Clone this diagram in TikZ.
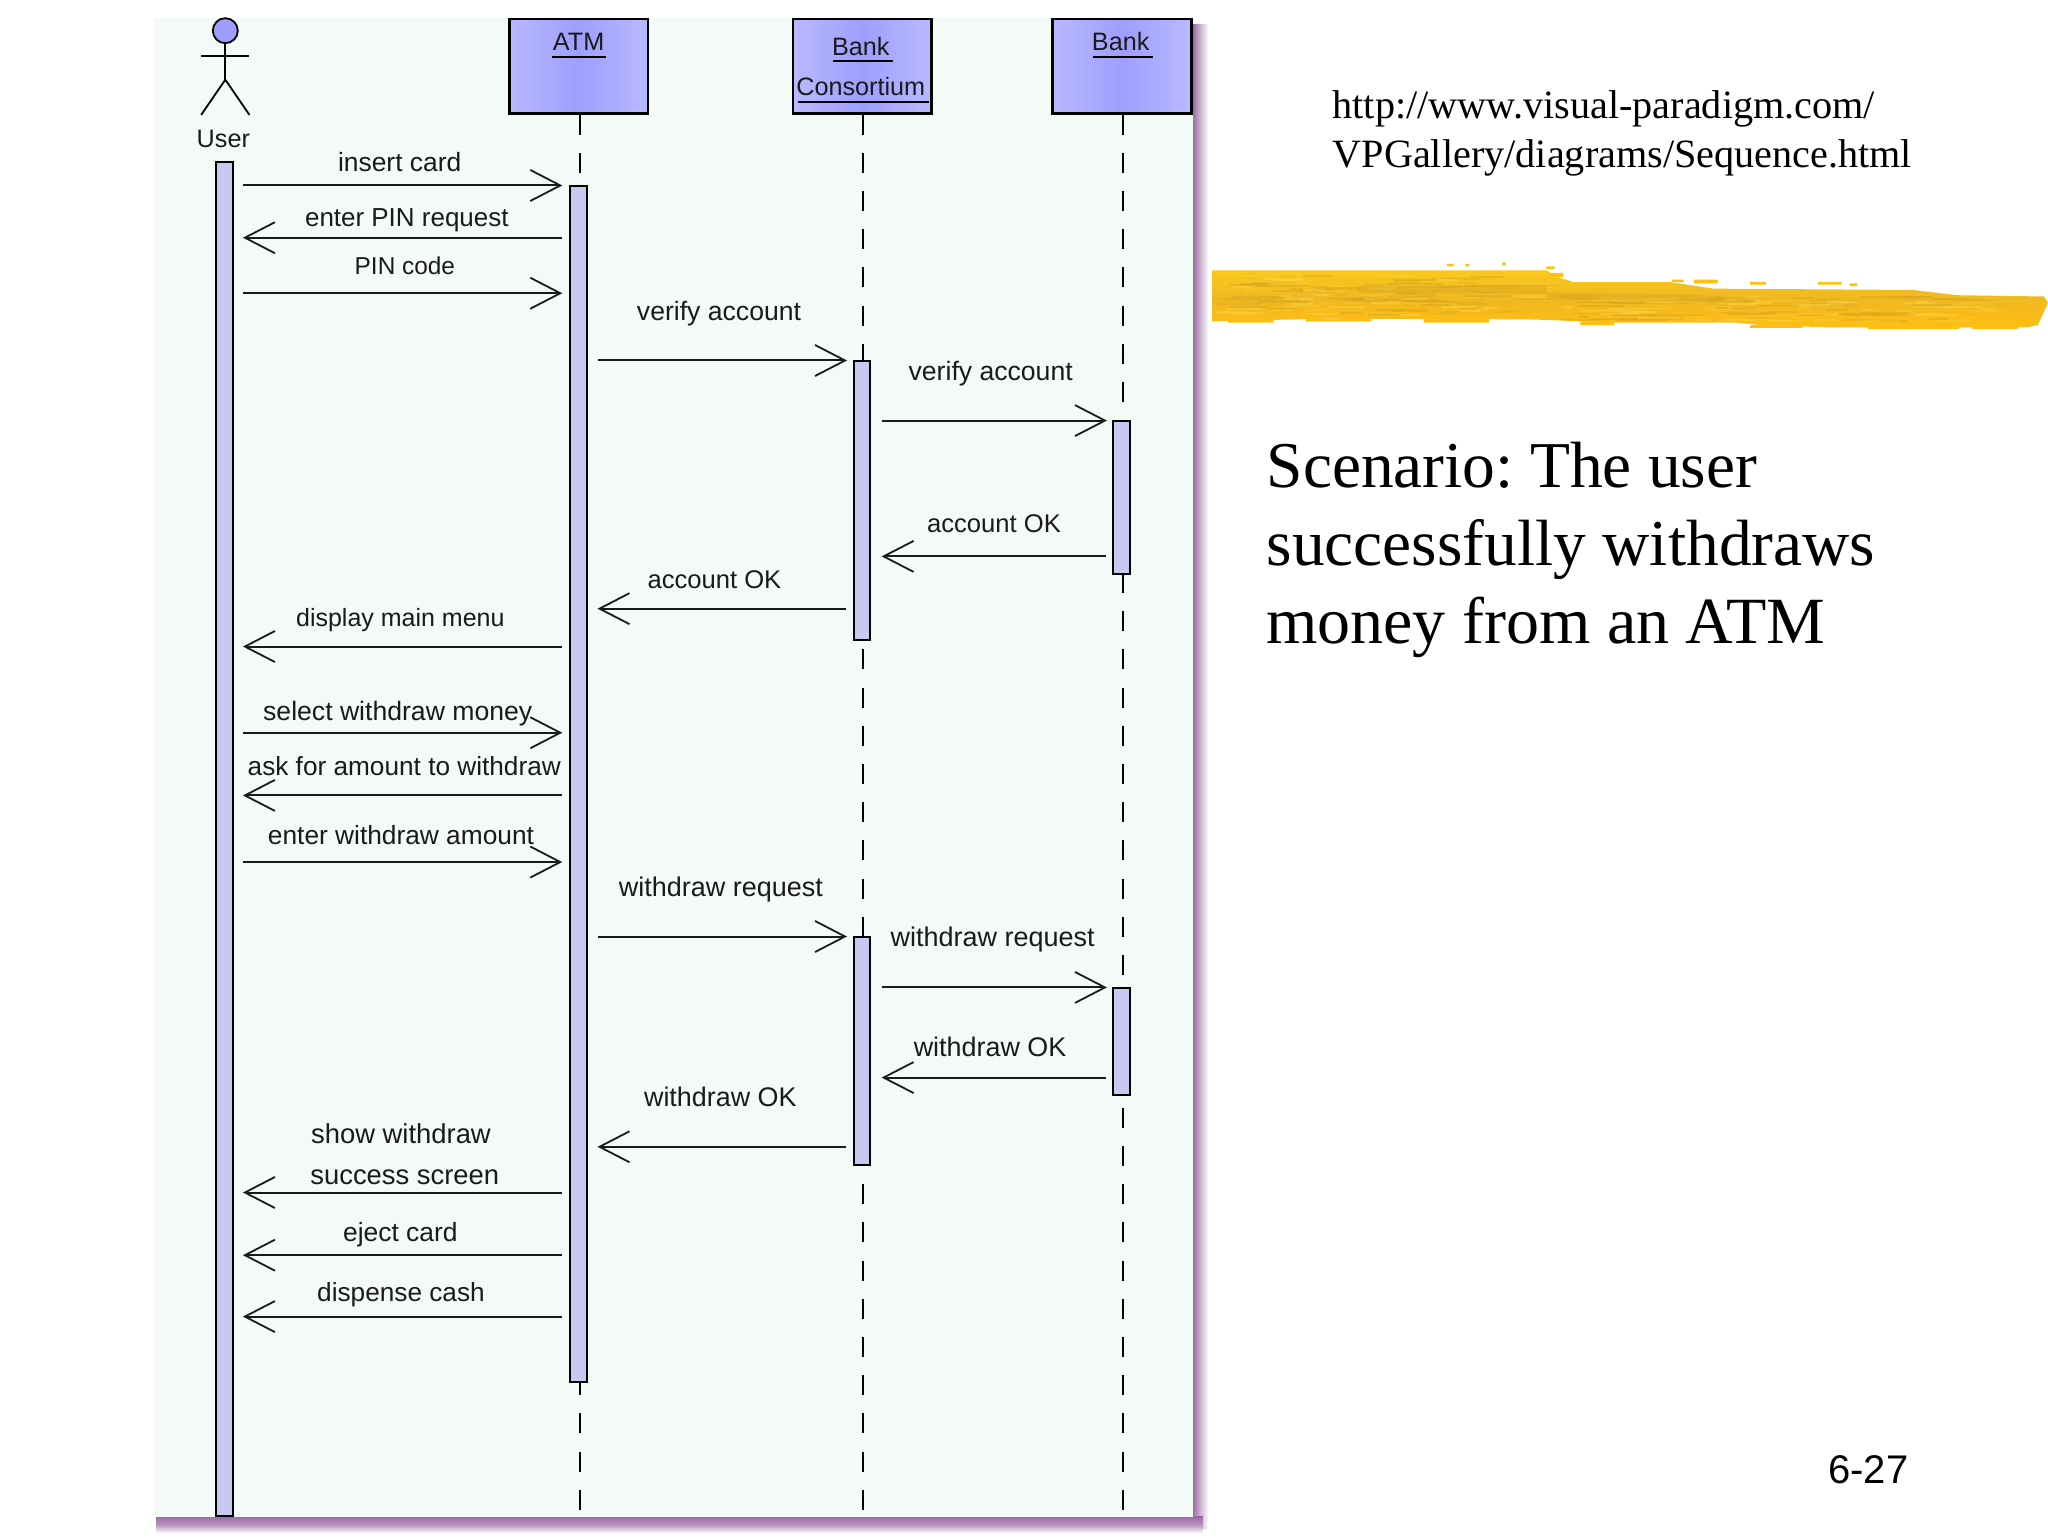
\documentclass[tikz,border=0pt]{standalone}
\usepackage{fontspec}
\setmainfont{Liberation Sans}
\newfontfamily\slidefont{Liberation Serif}
\usetikzlibrary{arrows.meta,shapes.geometric}
\definecolor{panelbg}{HTML}{F4FAF5}
\definecolor{shadowc}{HTML}{9A6AA4}
\definecolor{boxedge}{HTML}{B9B9FF}
\definecolor{boxmid}{HTML}{9E9EFF}
\definecolor{actfill}{HTML}{C8C8F0}
\definecolor{inkc}{HTML}{1A1A1A}
\definecolor{brusha}{HTML}{FAC91C}
\definecolor{brushb}{HTML}{EFB822}
\definecolor{brushc}{HTML}{FFBE12}
\definecolor{brushd}{HTML}{D2A11E}
\definecolor{brushe}{HTML}{FFD84A}
\tikzset{
  lifeobj/.style={draw=black,line width=1.3pt,left color=boxedge,right color=boxedge,middle color=boxmid,inner sep=0pt,anchor=north west,minimum width=69.4pt,minimum height=47.2pt},
  lifeline/.style={line width=0.95pt,black,dash pattern=on 10pt off 9.1pt},
  activation/.style={draw=black,line width=1pt,fill=actfill,inner sep=0pt,minimum width=8.2pt,anchor=north},
  msg/.style={line width=1pt,inkc,-{Straight Barb[length=15pt,width=15.5pt,line width=0.9pt]}},
  msglabel/.style={anchor=base,inner sep=0pt,text=inkc},
  objlabel/.style={anchor=base,inner sep=0pt,text=inkc,font=\fontsize{12.6}{15}\selectfont},
  objul/.style={line width=0.9pt,black},
  actorline/.style={line width=0.9pt,black},
  slidetext/.style={anchor=base west,inner sep=0pt,text=black},
}
\newcommand{\msgarrow}[4]{%
  \coordinate (#1a) at (#2,#4);\coordinate (#1b) at (#3,#4);
  \draw[msg] (#1a) -- (#1b);}
\newcommand{\msgtext}[5]{\node[msglabel,font=\fontsize{#4}{20.2}\selectfont] (#1) at (#2,#3+6.5) {#5};}
\begin{document}
\frenchspacing
\begin{tikzpicture}[x=0.65306pt,y=-0.65306pt]
\useasboundingbox (0,0) rectangle (1568,1176);
% panel and shadow
\shade[left color=shadowc,right color=white] (913,19) rectangle (925,1170);
\shade[top color=shadowc,bottom color=white,middle color=shadowc!70!white] (120,1161) rectangle (921,1174);
\fill[panelbg] (118,14) rectangle (913.5,1161.5);
% lifelines
\node[lifeobj] (atm) at (389,13.5) {};
\node[lifeobj] (cons) at (606,13.5) {};
\node[lifeobj] (bank) at (805,13.5) {};
\coordinate (atmend) at (444,1159);
\coordinate (consend) at (661,1159);
\coordinate (bankend) at (860,1159);
\draw[lifeline] (atm.south -| atmend) -- (atmend);
\draw[lifeline] (cons.south -| consend) -- (consend);
\draw[lifeline] (bank.south -| bankend) -- (bankend);
% object labels
\node[objlabel] (atmt) at (443,38.5) {ATM};
\draw[objul] (423,43.5) -- (464,43.5);
\node[objlabel] (bankonet) at (659,42.5) {Bank};
\draw[objul] (638,47) -- (684,47);
\node[objlabel] (const) at (659,73) {Consortium};
\draw[objul] (611,78) -- (711,78);
\node[objlabel] (bankt) at (858,38.5) {Bank};
\draw[objul] (837,43.5) -- (883,43.5);
% actor
\node[draw=black,line width=0.9pt,fill=boxmid,ellipse,inner sep=0pt,minimum width=12.5pt,minimum height=12.5pt] (head) at (172.5,23.5) {};
\coordinate (hip) at (172.5,61);
\coordinate (arml) at (154,43);\coordinate (armr) at (191,43);
\coordinate (legl) at (154,88);\coordinate (legr) at (191,88);
\draw[actorline] (head.south) -- (hip);
\draw[actorline] (arml) -- (armr);
\draw[actorline] (legl) -- (hip) -- (legr);
\node[objlabel] (usert) at (171,113) {User};
% activations
\node[activation,minimum height=676.9pt] (uact) at (172,123.5) {};
\node[activation,minimum height=598.2pt] (aact) at (443,141.5) {};
\node[activation,minimum height=139.7pt] (cact1) at (660,275.5) {};
\node[activation,minimum height=114.3pt] (cact2) at (660,716.5) {};
\node[activation,minimum height=76.4pt] (bact1) at (858.5,321.5) {};
\node[activation,minimum height=53.5pt] (bact2) at (858.5,755.5) {};
% messages
\msgarrow{m1}{186}{430.5}{142}
\msgtext{t1}{306}{125}{13.2}{insert card}
\msgarrow{m2}{430}{186}{182}
\msgtext{t2}{311.5}{167}{13}{enter\hspace{3.5pt}PIN request}
\msgarrow{m3}{186}{430.5}{224.5}
\msgtext{t3}{310}{204}{12.2}{PIN code}
\msgarrow{m4}{458}{648.5}{276}
\msgtext{t4}{550.5}{239}{13.3}{verify account}
\msgarrow{m5}{675}{847.5}{322}
\msgtext{t5}{758.5}{285}{13.3}{verify account}
\msgarrow{m6}{847}{675}{426}
\msgtext{t6}{761}{401}{12.8}{account OK}
\msgarrow{m7}{648}{457.5}{466}
\msgtext{t7}{547}{444}{12.8}{account OK}
\msgarrow{m8}{430}{186}{495}
\msgtext{t8}{306.5}{473}{12.5}{display main menu}
\msgarrow{m9}{186}{430.5}{561}
\msgtext{t9}{304.5}{545}{13.3}{select withdraw money}
\msgarrow{m10}{430}{186}{609}
\msgtext{t10}{309.5}{587}{13.1}{ask for amount to withdraw}
\msgarrow{m11}{186}{430.5}{660}
\msgtext{t11}{307}{640}{13.15}{enter withdraw amount}
\msgarrow{m12}{458}{648.5}{717}
\msgtext{t12}{552}{680}{13.5}{withdraw request}
\msgarrow{m13}{675}{847.5}{756}
\msgtext{t13}{760}{718}{13.5}{withdraw request}
\msgarrow{m14}{847}{675}{825}
\msgtext{t14}{758}{802}{13.45}{withdraw OK}
\msgarrow{m15}{648}{457.5}{878}
\msgtext{t15}{551.5}{841}{13.45}{withdraw OK}
\msgarrow{m16}{430}{186}{913}
\node[msglabel,align=center,font=\fontsize{13.7}{20.2}\selectfont] (t16) at (307,906.5) {show withdraw\\[0pt]\ success screen};
\msgarrow{m17}{430}{186}{961}
\msgtext{t17}{306.5}{944}{13.2}{eject card}
\msgarrow{m18}{430}{186}{1008}
\msgtext{t18}{307}{990}{13.1}{dispense cash}
% brush stroke
\shade[top color=brusha,bottom color=brushc,middle color=brushb]
  (928,207) -- (1010,207) -- (1184,207) -- (1192,212) -- (1205,216) -- (1279,216) -- (1312,221) -- (1465,222) -- (1498,226) -- (1565,227) -- (1568,232) -- (1560,249) -- (1552,250.6) -- (1399,250.6) -- (1349,249) -- (1329,247) -- (1238,247) -- (1171,244.5) -- (1014,244) -- (928,246) -- cycle;
\pgfmathsetseed{27}
\foreach \i in {1,...,70}{%
  \pgfmathsetmacro{\bx}{930+rnd*235}\pgfmathsetmacro{\by}{210+rnd*31}\pgfmathsetmacro{\bl}{8+rnd*34}
  \pgfmathsetmacro{\bop}{0.15+rnd*0.3}
  \fill[brushd,opacity=\bop] (\bx,\by) rectangle ++(\bl,1.6);
  \pgfmathsetmacro{\bx}{930+rnd*235}\pgfmathsetmacro{\by}{210+rnd*31}\pgfmathsetmacro{\bl}{6+rnd*26}
  \fill[brushe,opacity=\bop] (\bx,\by) rectangle ++(\bl,1.4);
}
\foreach \i in {1,...,70}{%
  \pgfmathsetmacro{\bx}{1190+rnd*320}\pgfmathsetmacro{\by}{226+rnd*19}\pgfmathsetmacro{\bl}{8+rnd*38}
  \pgfmathsetmacro{\bop}{0.15+rnd*0.3}
  \fill[brushd,opacity=\bop] (\bx,\by) rectangle ++(\bl,1.5);
  \pgfmathsetmacro{\bx}{1190+rnd*340}\pgfmathsetmacro{\by}{226+rnd*19}\pgfmathsetmacro{\bl}{8+rnd*30}
  \fill[brushe,opacity=\bop] (\bx,\by) rectangle ++(\bl,1.4);
}
\fill[brushd,opacity=0.4] (1040,219) -- (1184,218) -- (1184,225) -- (1040,224) -- cycle;
\fill[brushd,opacity=0.35] (1184,224) -- (1320,226) -- (1320,231) -- (1184,229) -- cycle;
\fill[brushc] (1108,202) rectangle (1113,204) (1122,202) rectangle (1125,204) (1150,201) rectangle (1153,203);
\fill[brushc] (1184,204) rectangle (1190,206) (1186,209) rectangle (1197,212) (1280,214) rectangle (1289,216) (1297,214) rectangle (1315,217) (1340,216) rectangle (1352,218) (1392,216) rectangle (1410,218) (1416,217) rectangle (1422,219);
\fill[brushc] (940,245) rectangle (975,247) (1000,244) rectangle (1050,246) (1090,244) rectangle (1140,247) (1210,246) rectangle (1236,249) (1340,249) rectangle (1380,251) (1430,250) rectangle (1500,252) (1510,250) rectangle (1545,252);
% slide text
\node[slidetext,font=\slidefont\fontsize{20.1}{24}\selectfont] (url1) at (1020,91) {http://www.visual-paradigm.com/};
\node[slidetext,font=\slidefont\fontsize{20.1}{24}\selectfont] (url2) at (1020,128) {VPGallery/diagrams/Sequence.html};
\node[slidetext,font=\slidefont\fontsize{32.7}{39}\selectfont] (sc1) at (969.5,373) {Scenario: The user};
\node[slidetext,font=\slidefont\fontsize{32.7}{39}\selectfont] (sc2) at (969.5,433) {successfully withdraws};
\node[slidetext,font=\slidefont\fontsize{33}{39}\selectfont] (sc3) at (969,493) {money from an ATM};
\node[slidetext,font=\fontsize{20}{24}\selectfont] (page) at (1399.5,1136) {6-27};
\end{tikzpicture}
\end{document}
